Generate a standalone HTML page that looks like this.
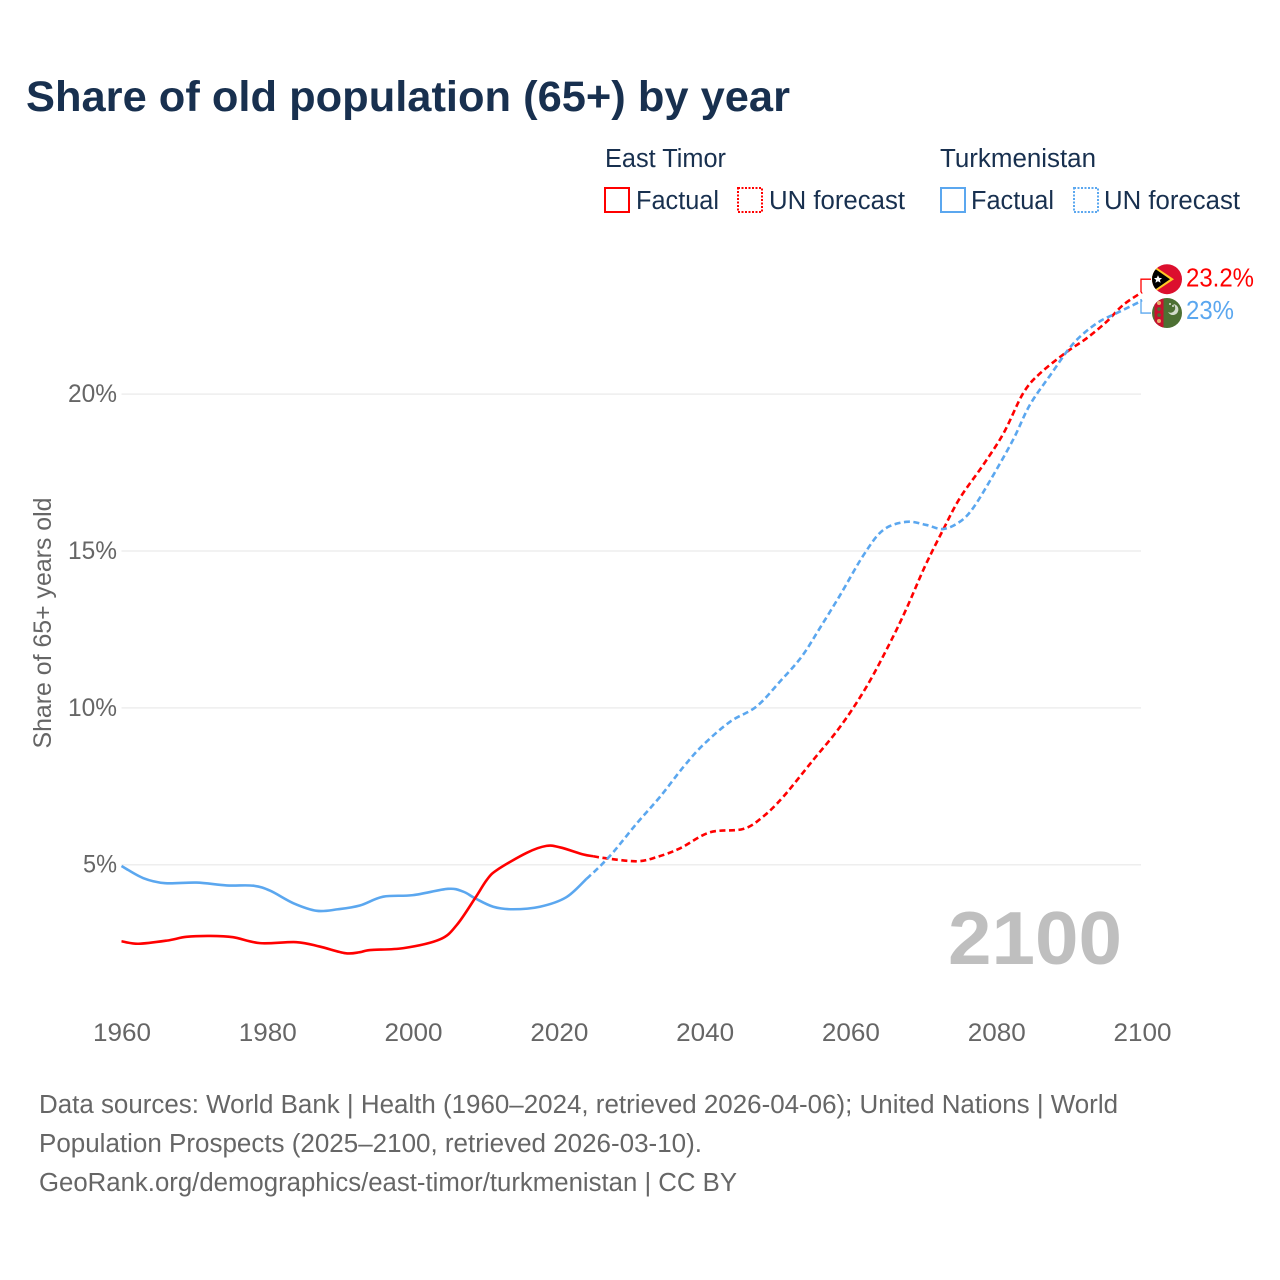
<!DOCTYPE html>
<html lang="en">
<head>
<meta charset="utf-8">
<title>Share of old population (65+) by year</title>
<style>
html,body{margin:0;padding:0;background:#fff;width:1280px;height:1280px;overflow:hidden}
svg{display:block}
text{font-family:"Liberation Sans",sans-serif}
</style>
</head>
<body>
<svg id="chart" xmlns="http://www.w3.org/2000/svg" width="1280" height="1280" viewBox="0 0 1280 1280">
  <rect x="0" y="0" width="1280" height="1280" fill="#fff"/>
  <text x="26" y="111" font-size="43" font-weight="700" fill="#18304f" textLength="764" lengthAdjust="spacingAndGlyphs">Share of old population (65+) by year</text>

  <g font-size="25.5" fill="#18304f">
    <text x="605" y="167" textLength="121" lengthAdjust="spacingAndGlyphs">East Timor</text>
    <text x="940" y="167" textLength="156" lengthAdjust="spacingAndGlyphs">Turkmenistan</text>
    <rect x="605" y="188" width="24" height="24" fill="none" stroke="#ff0000" stroke-width="2"/>
    <text x="636" y="209" textLength="83" lengthAdjust="spacingAndGlyphs">Factual</text>
    <rect x="738" y="188" width="24" height="24" fill="none" stroke="#ff0000" stroke-width="2" stroke-dasharray="2 1.5"/>
    <text x="769" y="209" textLength="136" lengthAdjust="spacingAndGlyphs">UN forecast</text>
    <rect x="941" y="188" width="24" height="24" fill="none" stroke="#5ba7ef" stroke-width="2"/>
    <text x="971" y="209" textLength="83" lengthAdjust="spacingAndGlyphs">Factual</text>
    <rect x="1074" y="188" width="24" height="24" fill="none" stroke="#5ba7ef" stroke-width="2" stroke-dasharray="2 1.5"/>
    <text x="1104" y="209" textLength="136" lengthAdjust="spacingAndGlyphs">UN forecast</text>
  </g>

  <g id="grid"></g>
  <g id="yticks"></g>
  <g id="xticks"></g>
  <text transform="translate(51,623) rotate(-90)" text-anchor="middle" font-size="25" fill="#666" textLength="251" lengthAdjust="spacingAndGlyphs">Share of 65+ years old</text>
  <text x="948" y="964" font-size="75" font-weight="700" fill="#bfbfbf" textLength="174" lengthAdjust="spacingAndGlyphs">2100</text>

  <g id="series"></g>
  <g id="ends"></g>

  <defs>
    <clipPath id="flag-clip-tl"><circle cx="1167" cy="0" r="15"/></clipPath>
    <clipPath id="flag-clip-tm"><circle cx="1167" cy="0" r="15"/></clipPath>
  </defs>
  <g id="flag-tl" clip-path="url(#flag-clip-tl)">
    <rect x="1150" y="-16" width="34" height="32" fill="#dc0f2e"/>
    <polygon points="1150,-16 1174,0 1150,16" fill="#ffc726"/>
    <polygon points="1150,-14 1170,0 1150,14" fill="#000"/>
    <polygon points="1158,-4 1159.2,-1.3 1162,-1.1 1159.9,0.8 1160.6,3.6 1158,2 1155.4,3.6 1156.1,0.8 1154,-1.1 1156.8,-1.3" fill="#fff"/>
  </g>
  <g id="flag-tm" clip-path="url(#flag-clip-tm)">
    <rect x="1150" y="-16" width="34" height="32" fill="#4d7033"/>
    <rect x="1154.5" y="-16" width="9" height="32" fill="#c8102e"/>
    <circle cx="1159" cy="-10" r="2" fill="#e8b070"/>
    <circle cx="1159" cy="-4" r="1.8" fill="#4d7033"/>
    <circle cx="1159" cy="2" r="1.8" fill="#4d7033"/>
    <circle cx="1159" cy="8" r="2" fill="#e8b070"/>
    <path d="M1173,-9 a5.5,5.5 0 1 1 -5,8 a4.5,4.5 0 0 0 5,-8 z" fill="#fff" opacity=".75"/>
    <circle cx="1170" cy="-9" r="1" fill="#fff" opacity=".8"/>
    <circle cx="1173" cy="-7" r="1" fill="#fff" opacity=".8"/>
  </g>

  <g font-size="25.5" fill="#666">
    <text x="39" y="1113" textLength="1079" lengthAdjust="spacingAndGlyphs">Data sources: World Bank | Health (1960–2024, retrieved 2026-04-06); United Nations | World</text>
    <text x="39" y="1152" textLength="663" lengthAdjust="spacingAndGlyphs">Population Prospects (2025–2100, retrieved 2026-03-10).</text>
    <text x="39" y="1191" textLength="698" lengthAdjust="spacingAndGlyphs">GeoRank.org/demographics/east-timor/turkmenistan | CC BY</text>
  </g>
</svg>
<script>
const xTickLabels = [1960, 1980, 2000, 2020, 2040, 2060, 2080, 2100];
const yTickLabels = [5, 10, 15, 20];
const timorFactualYears = [1960, 1962.3, 1966.2, 1968.9, 1972.1, 1975.3, 1979, 1984, 1987.2, 1990.7, 1992.7, 1994.1, 1998.7, 2003.7, 2006, 2008.5, 2010.1, 2011.5, 2015.6, 2018.3, 2020.2, 2023.3, 2024.7];
const timorFactualValues = [2.56, 2.48, 2.58, 2.70, 2.73, 2.69, 2.50, 2.53, 2.39, 2.18, 2.21, 2.28, 2.34, 2.62, 3.08, 3.93, 4.51, 4.83, 5.38, 5.60, 5.55, 5.33, 5.27];
const timorForecastYears = [2024.7, 2026.6, 2030.7, 2033.4, 2036.6, 2040.7, 2045.3, 2048, 2050.8, 2054.9, 2058.6, 2062.2, 2065.4, 2067.7, 2070.2, 2072.7, 2075, 2078.2, 2081, 2083.7, 2086, 2089.7, 2092.4, 2095.1, 2097.4, 2100];
const timorForecastValues = [5.27, 5.20, 5.11, 5.24, 5.52, 6.03, 6.14, 6.53, 7.17, 8.34, 9.40, 10.67, 12.06, 13.17, 14.50, 15.67, 16.68, 17.74, 18.75, 20.03, 20.66, 21.35, 21.78, 22.30, 22.84, 23.25];
const turkmenFactualYears = [1960, 1963, 1966, 1970.3, 1974.4, 1978.1, 1980.4, 1983.6, 1986.8, 1989.7, 1992.7, 1995.9, 2000, 2004.8, 2006.9, 2008.5, 2011, 2013.7, 2017.4, 2021, 2023.8];
const turkmenFactualValues = [4.96, 4.57, 4.41, 4.43, 4.34, 4.33, 4.17, 3.77, 3.53, 3.58, 3.70, 3.98, 4.03, 4.23, 4.14, 3.93, 3.66, 3.58, 3.66, 3.96, 4.55];
const turkmenForecastYears = [2023.8, 2025.6, 2027.5, 2030.7, 2033.9, 2037.1, 2039.8, 2043.5, 2047.1, 2050.3, 2053.3, 2055.8, 2058.6, 2061.8, 2064.5, 2067.7, 2070.4, 2072.7, 2075, 2076.8, 2079.3, 2082.3, 2084.6, 2087.4, 2090.6, 2093.8, 2096.5, 2099.3, 2100];
const turkmenForecastValues = [4.55, 4.94, 5.41, 6.32, 7.17, 8.12, 8.82, 9.56, 10.04, 10.83, 11.63, 12.54, 13.60, 14.87, 15.67, 15.93, 15.83, 15.70, 15.93, 16.36, 17.30, 18.54, 19.65, 20.60, 21.62, 22.26, 22.58, 22.90, 23.00];
const endLabels = ["23.2%", "23%"];

const NS = "http://www.w3.org/2000/svg";
function xScale(year) { return 121.5 + (year - 1960) * (1020.5 / 140); }
function yScale(value) { return 864.7 - (value - 5) * 31.37; }

function make(tag, attrs, parent, text) {
  const el = document.createElementNS(NS, tag);
  for (const k in attrs) el.setAttribute(k, attrs[k]);
  if (text !== undefined) el.textContent = text;
  parent.appendChild(el);
  return el;
}

function smoothPath(years, values) {
  const p = years.map((yr, i) => [xScale(yr), yScale(values[i])]);
  let d = "M" + p[0][0].toFixed(2) + "," + p[0][1].toFixed(2);
  for (let i = 0; i < p.length - 1; i++) {
    const a = p[Math.max(i - 1, 0)], b = p[i], c = p[i + 1], e = p[Math.min(i + 2, p.length - 1)];
    const c1x = b[0] + (c[0] - a[0]) / 6, c1y = b[1] + (c[1] - a[1]) / 6;
    const c2x = c[0] - (e[0] - b[0]) / 6, c2y = c[1] - (e[1] - b[1]) / 6;
    d += "C" + c1x.toFixed(2) + "," + c1y.toFixed(2) + " " + c2x.toFixed(2) + "," + c2y.toFixed(2) + " " + c[0].toFixed(2) + "," + c[1].toFixed(2);
  }
  return d;
}

const grid = document.getElementById("grid");
const yticks = document.getElementById("yticks");
yTickLabels.forEach(function (v) {
  const line = make("line", { x1: xScale(1960), x2: xScale(2100) - 1, y1: yScale(v), y2: yScale(v), stroke: "#eeeeee", "stroke-width": 1.5 }, grid);
  
  
  const label = v + "%";
  const t = make("text", { x: 117 - (label.length === 3 ? 49 : 34), y: yScale(v) + 8, "font-size": 25, fill: "#666", textLength: label.length === 3 ? 49 : 34, lengthAdjust: "spacingAndGlyphs" }, yticks, label);
  
  
});

const xticks = document.getElementById("xticks");
xTickLabels.forEach(function (yr) {
  const t = make("text", { x: xScale(yr) - 28.5, y: 1041, "font-size": 25, fill: "#666", textLength: 58, lengthAdjust: "spacingAndGlyphs" }, xticks, String(yr));
  
  
});

const seriesGroup = document.getElementById("series");
const lineTF = make("path", { d: smoothPath(turkmenFactualYears, turkmenFactualValues), fill: "none", stroke: "#5ba7ef", "stroke-width": 2.6, "stroke-linejoin": "round" }, seriesGroup);


const lineEF = make("path", { d: smoothPath(timorFactualYears, timorFactualValues), fill: "none", stroke: "#ff0000", "stroke-width": 2.6, "stroke-linejoin": "round" }, seriesGroup);


const lineEP = make("path", { d: smoothPath(timorForecastYears, timorForecastValues), fill: "none", stroke: "#ff0000", "stroke-width": 2.6, "stroke-dasharray": "6 3.5" }, seriesGroup);


const lineTP = make("path", { d: smoothPath(turkmenForecastYears, turkmenForecastValues), fill: "none", stroke: "#5ba7ef", "stroke-width": 2.6, "stroke-dasharray": "6 3.5" }, seriesGroup);



const ends = document.getElementById("ends");
const timorEndY = yScale(timorForecastValues[timorForecastValues.length - 1]);
const turkmenEndY = yScale(turkmenForecastValues[turkmenForecastValues.length - 1]);
const timorLabelY = timorEndY - 13;
const turkmenLabelY = turkmenEndY + 13;
const connA = make("path", { d: "M1141," + timorEndY + "V" + timorLabelY + "H1151", fill: "none", stroke: "#ff0000", "stroke-width": 1.3 }, ends);


const connB = make("path", { d: "M1141," + (turkmenEndY - 1) + "V" + turkmenLabelY + "H1151", fill: "none", stroke: "#5ba7ef", "stroke-width": 1.3 }, ends);


const labelA = make("text", { x: 1186, y: timorLabelY + 7.5, "font-size": 25.5, fill: "#ff0000", textLength: 68, lengthAdjust: "spacingAndGlyphs" }, ends, endLabels[0]);


const labelB = make("text", { x: 1186, y: turkmenLabelY + 6, "font-size": 25.5, fill: "#5ba7ef", textLength: 48, lengthAdjust: "spacingAndGlyphs" }, ends, endLabels[1]);



document.getElementById("flag-tl").setAttribute("transform", "translate(0," + timorLabelY + ")");
document.getElementById("flag-tm").setAttribute("transform", "translate(0," + turkmenLabelY + ")");
</script>
</body>
</html>
